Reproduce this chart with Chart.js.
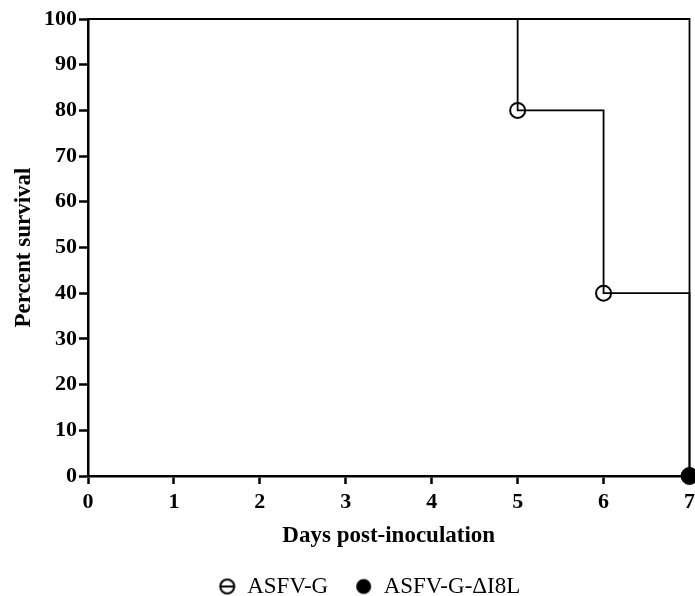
<!DOCTYPE html>
<html>
<head>
<meta charset="utf-8">
<script src="https://cdn.jsdelivr.net/npm/chart.js@4/dist/chart.umd.min.js"></script>
<style>
html,body{margin:0;padding:0;background:#fff;overflow:hidden;}
#wrap{width:695px;height:596px;position:relative;overflow:hidden;}
</style>
</head>
<body>
<div id="wrap"><canvas id="c" width="700" height="596"></canvas></div>
<script>
// Data
const seriesNames = ["ASFV-G", "ASFV-G-ΔI8L"];
const asfvgDays = [0, 5, 6, 7];
const asfvgSurvival = [100, 80, 40, 0];
const asfvgMarkers = [false, true, true, false];
const deltaDays = [0, 7];
const deltaSurvival = [100, 0];
const deltaMarkers = [false, true];
const xTicks = [0, 1, 2, 3, 4, 5, 6, 7];
const yTicks = [0, 10, 20, 30, 40, 50, 60, 70, 80, 90, 100];
const xTitle = "Days post-inoculation";
const yTitle = "Percent survival";

const FONT = "'Liberation Serif', 'Times New Roman', serif";
const ICON_W = 44, ICON_C = 35.5;

function legendIcon(filled) {
  const cv = document.createElement('canvas');
  cv.width = ICON_W; cv.height = 20;
  const g = cv.getContext('2d');
  g.strokeStyle = '#000'; g.fillStyle = '#000'; g.lineWidth = 2;
  g.beginPath(); g.arc(ICON_C, 10, filled ? 7.5 : 7, 0, Math.PI * 2);
  if (filled) g.fill(); else g.stroke();
  if (!filled) { g.beginPath(); g.moveTo(ICON_C - 7, 10); g.lineTo(ICON_C + 7, 10); g.stroke(); }
  return cv;
}

const toPts = (xs, ys) => xs.map((x, i) => ({x: x, y: ys[i]}));

const shiftLegend = {
  id: 'shiftLegend',
  afterLayout(chart) {
    const lg = chart.legend;
    if (lg) { lg.left += 6; lg.right += 6; lg.top += 12; lg.bottom += 12; }
  }
};

new Chart(document.getElementById('c'), {
  type: 'line',
  plugins: [shiftLegend],
  data: {
    datasets: [
      {
        label: seriesNames[0],
        data: toPts(asfvgDays, asfvgSurvival),
        stepped: 'before',
        borderColor: '#000', borderWidth: 1.8,
        pointRadius: asfvgMarkers.map(m => m ? 7.5 : 0),
        pointBackgroundColor: 'rgba(255,255,255,0)',
        pointBorderColor: '#000', pointBorderWidth: 2,
        clip: false, fill: false
      },
      {
        label: seriesNames[1],
        data: toPts(deltaDays, deltaSurvival),
        stepped: 'before',
        borderColor: '#000', borderWidth: 1.8,
        pointRadius: deltaMarkers.map(m => m ? 8.5 : 0),
        pointBackgroundColor: '#000',
        pointBorderColor: '#000', pointBorderWidth: 1,
        clip: false, fill: false
      }
    ]
  },
  options: {
    responsive: false,
    animation: false,
    events: [],
    layout: {padding: {top: 19, right: 0, left: 0, bottom: 0}},
    plugins: {
      tooltip: {enabled: false},
      legend: {
        position: 'bottom',
        labels: {
          usePointStyle: true,
          pointStyleWidth: ICON_W,
          font: {family: FONT, size: 23},
          color: '#000',
          padding: 0,
          generateLabels: (chart) => chart.data.datasets.map((d, i) => ({
            text: d.label,
            pointStyle: legendIcon(i === 1),
            fillStyle: '#000', strokeStyle: '#000', lineWidth: 0,
            datasetIndex: i, hidden: false
          }))
        }
      }
    },
    scales: {
      x: {
        type: 'linear', min: 0, max: 7,
        afterBuildTicks: (s) => { s.ticks = xTicks.map(v => ({value: v})); },
        afterFit: (s) => { s.height = 87; },
        grid: {display: true, drawOnChartArea: false, drawTicks: true, tickLength: 8, tickWidth: 2.5, tickColor: '#000'},
        border: {display: true, color: '#000', width: 2.5},
        ticks: {color: '#000', font: {family: FONT, size: 22, weight: 'bold'}, padding: 5, maxRotation: 0},
        title: {display: true, text: xTitle, color: '#000', font: {family: FONT, size: 23, weight: 'bold'}, padding: {top: 5, bottom: 13}}
      },
      y: {
        type: 'linear', min: 0, max: 100,
        afterBuildTicks: (s) => { s.ticks = yTicks.map(v => ({value: v})); },
        afterFit: (s) => { s.width = 88; },
        grid: {display: true, drawOnChartArea: false, drawTicks: true, tickLength: 9, tickWidth: 2.5, tickColor: '#000'},
        border: {display: true, color: '#000', width: 2.5},
        ticks: {color: '#000', font: {family: FONT, size: 22, weight: 'bold'}, padding: 2},
        title: {display: true, text: yTitle, color: '#000', font: {family: FONT, size: 23, weight: 'bold'}, padding: {top: 10, bottom: 4}}
      }
    }
  }
});
</script>
</body>
</html>
